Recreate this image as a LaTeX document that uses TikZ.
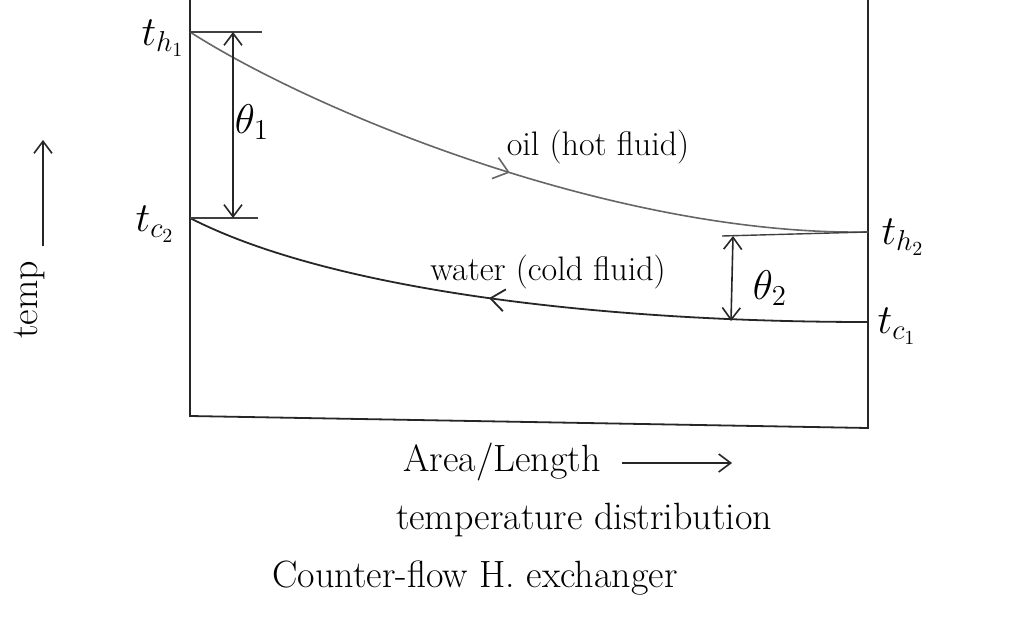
\documentclass[tikz,border=0pt]{standalone}
\usetikzlibrary{arrows.meta,decorations.markings}
\begin{document}
\begin{tikzpicture}[x=0.5pt,y=-0.5pt,
  axisline/.style={line width=0.9pt,black!85},
  hotline/.style={line width=0.8pt,black!60},
  coldline/.style={line width=0.9pt,black!85},
  tickline/.style={line width=0.7pt,black!75},
  dimarrow/.style={line width=0.8pt,black!85,{Straight Barb[length=6pt,width=9pt]}-{Straight Barb[length=6pt,width=9pt]}},
  openarrow/.style={line width=0.8pt,black!85,-{Straight Barb[length=6pt,width=9pt]}},
  lbl/.style={inner sep=0pt,font=\fontsize{20}{22}\selectfont},
  txt/.style={inner sep=0pt,font=\fontsize{19}{22}\selectfont},
  flowtxt/.style={inner sep=0pt,font=\fontsize{17}{20}\selectfont}
]
\useasboundingbox (0,0) rectangle (1016,620);
\fill[white] (0,0) rectangle (1016,620);

% frame
\coordinate (ltop) at (190,0);
\coordinate (lbot) at (190,416);
\coordinate (rtop) at (868,0);
\coordinate (rbot) at (868,428);
\draw[axisline] (ltop) -- (lbot) -- (rbot) -- (rtop);

% key points
\coordinate (h1) at (190,32);
\coordinate (h2) at (868,232);
\coordinate (c2) at (190,218);
\coordinate (c1) at (868,322);

% hot fluid curve
\draw[hotline,postaction={decorate,decoration={markings,
  mark=at position 0.49 with {\arrow{Straight Barb[length=7pt,width=11pt]}}}}]
  (h1) .. controls (320,115) and (620,236) .. (h2);
% cold fluid curve
\draw[coldline,postaction={decorate,decoration={markings,
  mark=at position 0.45 with {\arrowreversed{Straight Barb[length=7pt,width=11pt]}}}}]
  (c2) .. controls (330,290) and (600,322) .. (c1);

% theta 1 dimension
\coordinate (t1a) at (262,32);
\coordinate (t1b) at (258,218);
\draw[tickline] (h1) -- (t1a);
\draw[tickline] (c2) -- (t1b);
\coordinate (d1a) at (233,32);
\coordinate (d1b) at (233,218);
\draw[dimarrow] (d1a) -- (d1b);
\node[lbl] (theta1) at (252,122) {$\theta_1$};

% theta 2 dimension
\coordinate (t2a) at (722,236);
\draw[tickline] (t2a) -- (h2);
\coordinate (d2a) at (733,236);
\coordinate (d2b) at (731,321);
\draw[dimarrow] (d2a) -- (d2b);
\node[lbl] (theta2) at (770,288) {$\theta_2$};

% end labels
\node[lbl] (lh1) at (163,38) {$t_{h_1}$};
\node[lbl] (lc2) at (155,224) {$t_{c_2}$};
\node[lbl] (lh2) at (903,237) {$t_{h_2}$};
\node[lbl] (lc1) at (897,326) {$t_{c_1}$};

% flow labels
\node[flowtxt] (oil) at (598,147) {oil (hot fluid)};
\node[flowtxt] (water) at (548,272) {water (cold fluid)};

% y-axis label
\node[txt,rotate=90] (temp) at (30,300) {temp};
\coordinate (ya) at (43,246);
\coordinate (yb) at (43,140);
\draw[openarrow] (ya) -- (yb);

% x-axis label
\node[txt] (area) at (502,462) {Area/Length};
\coordinate (xa) at (622,463);
\coordinate (xb) at (732,463);
\draw[openarrow] (xa) -- (xb);

% captions
\node[txt] (cap1) at (584,520) {temperature distribution};
\node[txt] (cap2) at (475,578) {Counter-flow H. exchanger};
\end{tikzpicture}
\end{document}
